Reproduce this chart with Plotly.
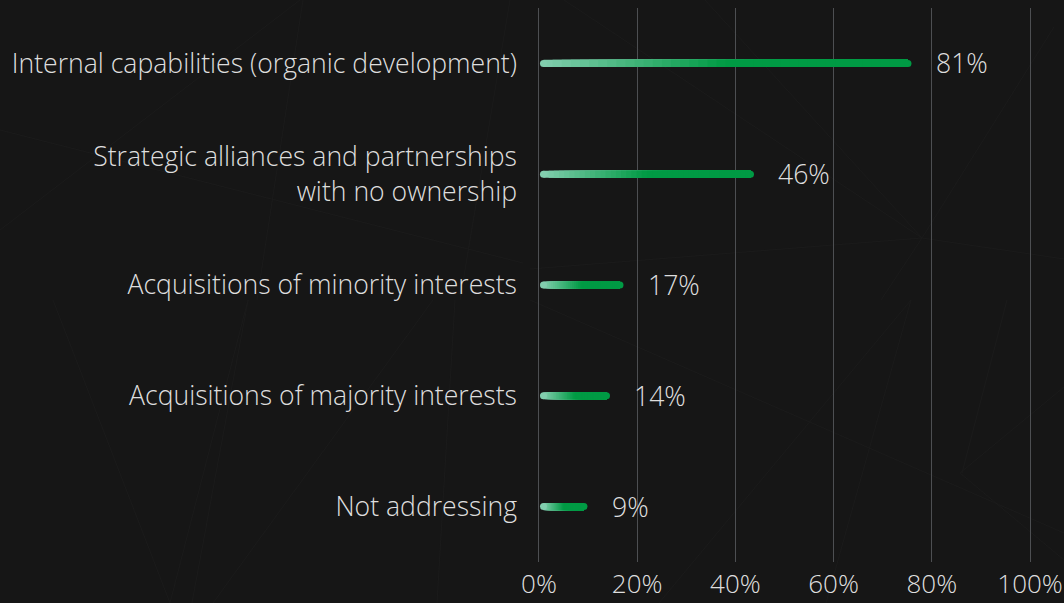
import plotly.graph_objects as go

# Datos del gráfico
categorias = [
    "Internal capabilities (organic development)",
    "Strategic alliances and partnerships<br>with no ownership",
    "Acquisitions of minority interests",
    "Acquisitions of majority interests",
    "Not addressing",
]
valores = [81, 46, 17, 14, 9]
etiquetas = ["81%", "46%", "17%", "14%", "9%"]
ticks_x = [0, 20, 40, 60, 80, 100]
ticks_x_texto = ["0%", "20%", "40%", "60%", "80%", "100%"]

posiciones = list(range(len(categorias)))

FONDO = "#161616"
TEXTO = "#dedede"
FUENTE = dict(family="Open Sans", size=26.6, color=TEXTO, weight=300)

# degradado del claro al verde
c_ini = (130, 206, 174)
c_fin = (0, 154, 68)
n_seg = 40


def mezcla(t):
    t = min(t / 0.5, 1.0)
    return "rgb(%d,%d,%d)" % tuple(int(a + (b - a) * t) for a, b in zip(c_ini, c_fin))


fig = go.Figure()

# traza invisible para que el eje x visible se dibuje
fig.add_trace(go.Scatter(
    x=[0, 100], y=[0, 0], mode="markers", marker=dict(opacity=0),
    showlegend=False, hoverinfo="skip",
))

# Barras superpuestas para simular el degradado (sin costuras)
for k in range(n_seg):
    fig.add_trace(go.Bar(
        y=posiciones,
        x=[v * (n_seg - k) / n_seg for v in valores],
        base=[v * k / n_seg for v in valores],
        orientation="h",
        width=0.064,
        marker=dict(color=mezcla((k + 0.5) / n_seg), line=dict(width=0)),
        xaxis="x2",
        showlegend=False,
        hoverinfo="skip",
    ))

# Extremos redondeados
fig.add_trace(go.Scatter(
    x=[0] * len(valores), y=posiciones, mode="markers", xaxis="x2",
    marker=dict(size=7, color="rgb(%d,%d,%d)" % c_ini, line=dict(width=0)),
    showlegend=False, hoverinfo="skip",
))
fig.add_trace(go.Scatter(
    x=valores, y=posiciones, mode="markers", xaxis="x2",
    marker=dict(size=7, color="rgb(%d,%d,%d)" % c_fin, line=dict(width=0)),
    showlegend=False, hoverinfo="skip",
))

# Etiquetas de valor
for p, v, t in zip(posiciones, valores, etiquetas):
    fig.add_annotation(
        x=v, y=p, xref="x2", yref="y", text=t, showarrow=False,
        xanchor="left", xshift=26, font=FUENTE,
    )

# Líneas decorativas del fondo (en píxeles de la figura)
L, T, W, H = 537, 8, 495, 554
lineas_fondo = [
    (564, 0, 922, 238), (705, 0, 922, 238), (1054, 27, 922, 238),
    (530, 269, 922, 238), (922, 238, 1064, 259), (922, 238, 881, 300),
    (530, 300, 1064, 533), (659, 603, 911, 300), (826, 603, 911, 300),
    (962, 473, 1007, 300), (960, 473, 1064, 387), (960, 473, 1064, 560),
    (53, 300, 170, 603), (248, 300, 192, 603), (433, 300, 213, 603),
    (455, 300, 437, 603), (0, 130, 523, 263), (303, 0, 257, 300),
    (510, 0, 460, 300), (0, 230, 300, 0), (170, 603, 248, 300),
]
for x0, y0, x1, y1 in lineas_fondo:
    fig.add_shape(
        type="line", xref="paper", yref="paper",
        x0=(x0 - L) / W, y0=1 - (y0 - T) / H,
        x1=(x1 - L) / W, y1=1 - (y1 - T) / H,
        line=dict(color="#1b1b1b", width=1), layer="below",
    )

fig.update_layout(
    width=1064,
    height=603,
    paper_bgcolor=FONDO,
    plot_bgcolor="rgba(0,0,0,0)",
    margin=dict(l=L, r=1064 - L - W, t=T, b=603 - T - H, autoexpand=False),
    barmode="overlay",
    font=FUENTE,
    xaxis=dict(
        range=[-0.4, 100.4],
        tickvals=ticks_x,
        ticktext=ticks_x_texto,
        showgrid=True,
        gridcolor="#4d4f52",
        gridwidth=1,
        zeroline=False,
        showline=False,
        ticks="",
        ticklabelstandoff=4,
        automargin=False,
        tickfont=dict(family="Open Sans", size=26, color=TEXTO, weight=300),
    ),
    xaxis2=dict(
        range=[-1.44, 108.56],
        overlaying="x",
        visible=False,
    ),
    yaxis=dict(
        range=[4.5, -0.5],
        tickvals=posiciones,
        ticktext=categorias,
        showgrid=False,
        zeroline=False,
        showline=False,
        ticks="",
        ticklabelstandoff=19,
        automargin=False,
        tickfont=FUENTE,
    ),
)

fig.write_html(
    "out.html",
    config={"displayModeBar": False},
    post_script="document.body.style.margin='0';",
)
